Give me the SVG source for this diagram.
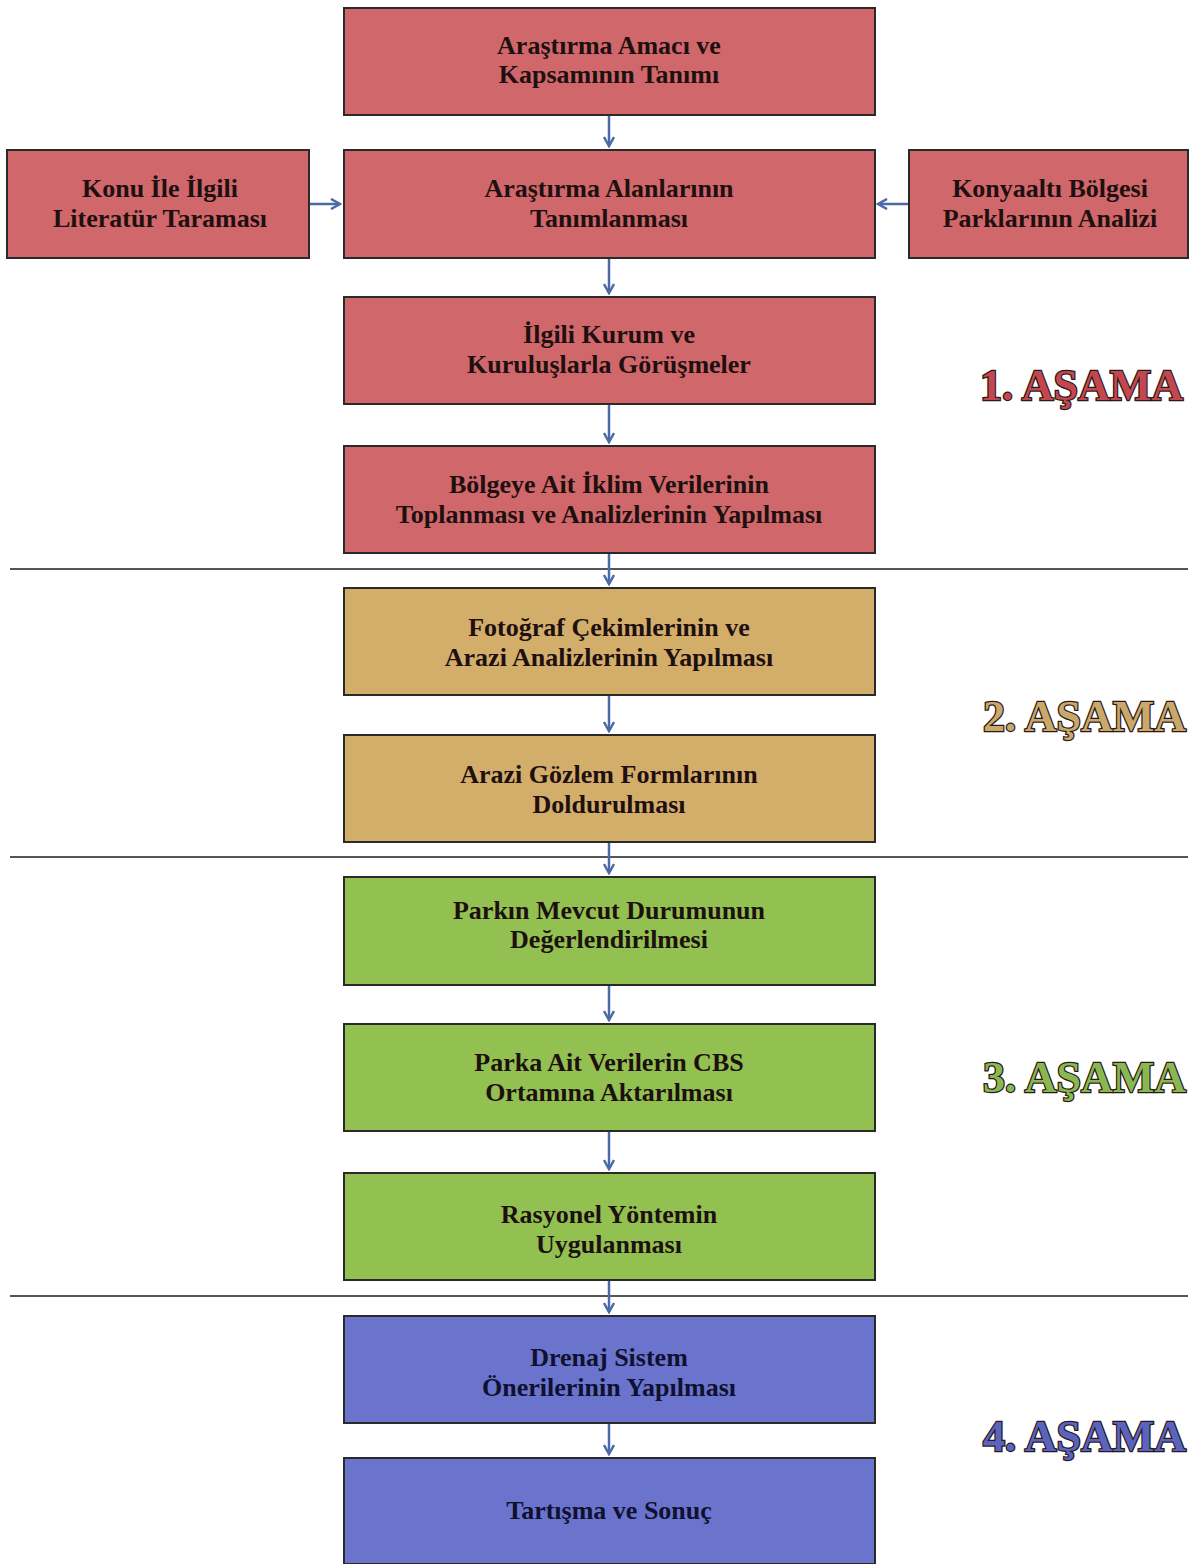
<svg xmlns="http://www.w3.org/2000/svg" width="1192" height="1564" viewBox="0 0 1192 1564">
<style>
.box{stroke:#2a2a2a;stroke-width:2}
.red{fill:#d0676a}
.tan{fill:#d3ad6a}
.grn{fill:#92c051}
.blu{fill:#6a74cc}
.t{font-weight:bold;font-size:26px;fill:#1e1010;text-anchor:middle}
.tb{fill:#101030}
.sep{stroke:#555;stroke-width:2}
.con{stroke:#4a6aa8;stroke-width:2.5;fill:none}
.st{font-weight:bold;font-size:44px;stroke:#2a1a1a;stroke-width:2.5;paint-order:stroke;text-anchor:end}
</style>
<defs>
<marker id="ah" viewBox="0 0 12 12" refX="10" refY="6" markerWidth="12" markerHeight="12" markerUnits="userSpaceOnUse" orient="auto">
<path d="M1,1 L10,6 L1,11" fill="none" stroke="#4a6aa8" stroke-width="2.5"/>
</marker>
</defs>
<rect width="1192" height="1564" fill="#fff"/>
<g id="separators">
<line class="sep" x1="10" y1="569" x2="1188" y2="569"/>
<line class="sep" x1="10" y1="857" x2="1188" y2="857"/>
<line class="sep" x1="10" y1="1296" x2="1188" y2="1296"/>
</g>
<g id="connectors">
<line class="con" x1="609" y1="115" x2="609" y2="146" marker-end="url(#ah)"/>
<line class="con" x1="309" y1="204" x2="340" y2="204" marker-end="url(#ah)"/>
<line class="con" x1="909" y1="204" x2="878" y2="204" marker-end="url(#ah)"/>
<line class="con" x1="609" y1="258" x2="609" y2="293" marker-end="url(#ah)"/>
<line class="con" x1="609" y1="404" x2="609" y2="442" marker-end="url(#ah)"/>
<line class="con" x1="609" y1="553" x2="609" y2="584" marker-end="url(#ah)"/>
<line class="con" x1="609" y1="695" x2="609" y2="731" marker-end="url(#ah)"/>
<line class="con" x1="609" y1="842" x2="609" y2="873" marker-end="url(#ah)"/>
<line class="con" x1="609" y1="985" x2="609" y2="1020" marker-end="url(#ah)"/>
<line class="con" x1="609" y1="1131" x2="609" y2="1169" marker-end="url(#ah)"/>
<line class="con" x1="609" y1="1280" x2="609" y2="1312" marker-end="url(#ah)"/>
<line class="con" x1="609" y1="1423" x2="609" y2="1454" marker-end="url(#ah)"/>
</g>
<g font-family="Liberation Serif, Times New Roman, serif">
<g id="n1"><rect class="box red" x="344" y="8" width="531" height="107"/>
<text class="t" x="609" y="54">Araştırma Amacı ve</text><text class="t" x="609" y="83">Kapsamının Tanımı</text></g>
<g id="n2"><rect class="box red" x="344" y="150" width="531" height="108"/>
<text class="t" x="609" y="197">Araştırma Alanlarının</text><text class="t" x="609" y="227">Tanımlanması</text></g>
<g id="nL"><rect class="box red" x="7" y="150" width="302" height="108"/>
<text class="t" x="160" y="197">Konu İle İlgili</text><text class="t" x="160" y="227">Literatür Taraması</text></g>
<g id="nR"><rect class="box red" x="909" y="150" width="279" height="108"/>
<text class="t" x="1050" y="197">Konyaaltı Bölgesi</text><text class="t" x="1050" y="227">Parklarının Analizi</text></g>
<g id="n3"><rect class="box red" x="344" y="297" width="531" height="107"/>
<text class="t" x="609" y="343">İlgili Kurum ve</text><text class="t" x="609" y="373">Kuruluşlarla Görüşmeler</text></g>
<g id="n4"><rect class="box red" x="344" y="446" width="531" height="107"/>
<text class="t" x="609" y="493">Bölgeye Ait İklim Verilerinin</text><text class="t" x="609" y="523">Toplanması ve Analizlerinin Yapılması</text></g>
<g id="n5"><rect class="box tan" x="344" y="588" width="531" height="107"/>
<text class="t" x="609" y="636">Fotoğraf Çekimlerinin ve</text><text class="t" x="609" y="666">Arazi Analizlerinin Yapılması</text></g>
<g id="n6"><rect class="box tan" x="344" y="735" width="531" height="107"/>
<text class="t" x="609" y="783">Arazi Gözlem Formlarının</text><text class="t" x="609" y="813">Doldurulması</text></g>
<g id="n7"><rect class="box grn" x="344" y="877" width="531" height="108"/>
<text class="t" x="609" y="919">Parkın Mevcut Durumunun</text><text class="t" x="609" y="948">Değerlendirilmesi</text></g>
<g id="n8"><rect class="box grn" x="344" y="1024" width="531" height="107"/>
<text class="t" x="609" y="1071">Parka Ait Verilerin CBS</text><text class="t" x="609" y="1101">Ortamına Aktarılması</text></g>
<g id="n9"><rect class="box grn" x="344" y="1173" width="531" height="107"/>
<text class="t" x="609" y="1223">Rasyonel Yöntemin</text><text class="t" x="609" y="1253">Uygulanması</text></g>
<g id="n10"><rect class="box blu" x="344" y="1316" width="531" height="107"/>
<text class="t tb" x="609" y="1366">Drenaj Sistem</text><text class="t tb" x="609" y="1396">Önerilerinin Yapılması</text></g>
<g id="n11"><rect class="box blu" x="344" y="1458" width="531" height="106"/>
<text class="t tb" x="609" y="1519">Tartışma ve Sonuç</text></g>
<g id="stages">
<text class="st" x="1183" y="400" fill="#c2474e">1. AŞAMA</text>
<text class="st" x="1186" y="731" fill="#c9a86a">2. AŞAMA</text>
<text class="st" x="1186" y="1092" fill="#8ab850">3. AŞAMA</text>
<text class="st" x="1186" y="1451" fill="#5a64c0">4. AŞAMA</text>
</g>
</g>
</svg>
